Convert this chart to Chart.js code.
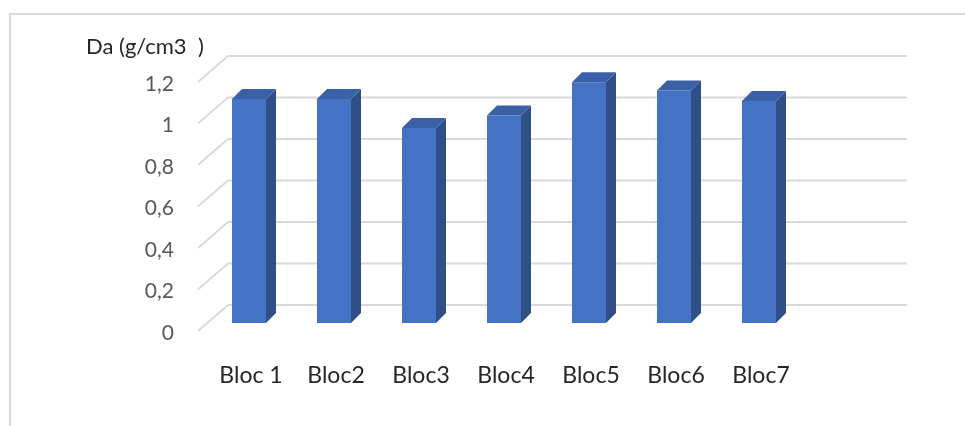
<!DOCTYPE html>
<html>
<head>
<meta charset="utf-8">
<script src="https://cdn.jsdelivr.net/npm/chart.js@4/dist/chart.umd.min.js"></script>
<style>
  html, body { margin: 0; padding: 0; background: #ffffff; }
  #c { display: block; }
</style>
</head>
<body>
<canvas id="c" width="965" height="426"></canvas>
<script>
// Bulk density per block
const categories = ['Bloc 1', 'Bloc2', 'Bloc3', 'Bloc4', 'Bloc5', 'Bloc6', 'Bloc7'];
const densityValues = [1.08, 1.08, 0.94, 1.00, 1.16, 1.12, 1.07];
const yTickLabels = ['0', '0,2', '0,4', '0,6', '0,8', '1', '1,2'];
const axisTitle = 'Da (g/cm3  )';

const FONT = "Lato, Carlito, 'Liberation Sans', sans-serif";
const FRONT = '#4472C4';
const SIDE = '#2F4F86';
const TOP = '#3A60A8';
const GRID = '#d9d9d9';

// depth of each column (top and right faces)
const barDepth = { dx: 10, dy: -10 };
// offsets from a bar's front face to the front plane and the back wall
const frontPlane = { dx: -8.5, dy: 8 };
const backWall = { dx: 21.5, dy: -18 };
const backWallRight = 907;

const framePlugin = {
  id: 'frame',
  beforeDraw(chart) {
    const ctx = chart.ctx;
    ctx.save();
    ctx.strokeStyle = GRID;
    ctx.lineWidth = 2;
    ctx.beginPath();
    ctx.moveTo(10, chart.height);
    ctx.lineTo(10, 14);
    ctx.lineTo(chart.width, 14);
    ctx.stroke();
    ctx.restore();
  }
};

// gridlines on the back wall, joined to the front plane by the side-wall diagonals
const wallGridPlugin = {
  id: 'wallGrid',
  beforeDatasetsDraw(chart) {
    const ctx = chart.ctx;
    const y = chart.scales.y;
    const left = chart.chartArea.left;
    ctx.save();
    ctx.strokeStyle = GRID;
    ctx.lineWidth = 1.8;
    y.ticks.forEach(t => {
      const p = y.getPixelForValue(t.value);
      ctx.beginPath();
      ctx.moveTo(left + frontPlane.dx, p + frontPlane.dy);
      ctx.lineTo(left + backWall.dx, p + backWall.dy);
      ctx.lineTo(backWallRight, p + backWall.dy);
      ctx.stroke();
    });
    ctx.restore();
  }
};

// right side and top faces of each column
const columnDepthPlugin = {
  id: 'columnDepth',
  afterDatasetsDraw(chart) {
    const ctx = chart.ctx;
    const meta = chart.getDatasetMeta(0);
    const { dx, dy } = barDepth;
    ctx.save();
    meta.data.forEach(bar => {
      const { x, y, base, width } = bar.getProps(['x', 'y', 'base', 'width'], true);
      const l = x - width / 2, r = x + width / 2;
      ctx.fillStyle = SIDE;
      ctx.beginPath();
      ctx.moveTo(r, y);
      ctx.lineTo(r + dx, y + dy);
      ctx.lineTo(r + dx, base + dy);
      ctx.lineTo(r, base);
      ctx.closePath();
      ctx.fill();
      ctx.fillStyle = TOP;
      ctx.beginPath();
      ctx.moveTo(l, y);
      ctx.lineTo(l + dx, y + dy);
      ctx.lineTo(r + dx, y + dy);
      ctx.lineTo(r, y);
      ctx.closePath();
      ctx.fill();
    });
    ctx.restore();
  }
};

new Chart(document.getElementById('c'), {
  type: 'bar',
  data: {
    labels: categories,
    datasets: [{
      data: densityValues,
      backgroundColor: FRONT,
      borderWidth: 0,
      barPercentage: 0.4,
      categoryPercentage: 1
    }]
  },
  options: {
    responsive: false,
    animation: false,
    devicePixelRatio: 1,
    layout: { padding: { left: 86, top: 35, right: 163.5, bottom: 0 } },
    plugins: {
      legend: { display: false },
      tooltip: { enabled: false },
      title: {
        display: true,
        text: axisTitle,
        align: 'start',
        color: '#262626',
        font: { family: FONT, size: 22, weight: 'normal', lineHeight: 1.1 },
        padding: { top: 0, bottom: 14.8 }
      }
    },
    scales: {
      x: {
        grid: { display: false, drawTicks: false },
        border: { display: false },
        ticks: {
          color: '#262626',
          padding: 39,
          labelOffset: 2,
          font: { family: FONT, size: 23 }
        },
        afterFit(scale) { scale.height = 103; }
      },
      y: {
        min: 0,
        max: 1.2,
        grid: { display: false, drawTicks: false },
        border: { display: false },
        ticks: {
          stepSize: 0.2,
          color: '#595959',
          padding: 32.5,
          labelOffset: 10,
          font: { family: FONT, size: 21 },
          callback: (value, index) => yTickLabels[index]
        },
        afterFit(scale) { scale.width = 120.5; }
      }
    }
  },
  plugins: [framePlugin, wallGridPlugin, columnDepthPlugin]
});
</script>
</body>
</html>
